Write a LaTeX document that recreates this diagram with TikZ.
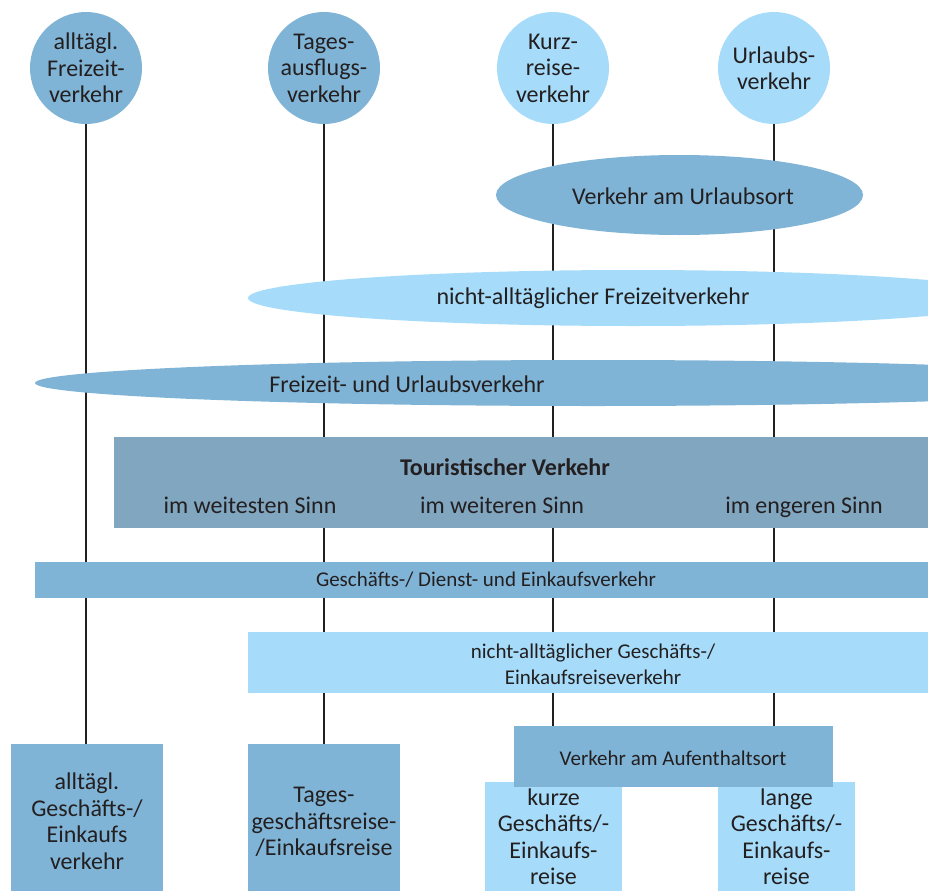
\documentclass[tikz,border=0pt]{standalone}
\usepackage{fontspec}
\setmainfont{Carlito}
\usetikzlibrary{shapes.geometric,backgrounds}
\definecolor{midblue}{HTML}{80B4D6}
\definecolor{lightblue}{HTML}{A6DCF9}
\definecolor{greyblue}{HTML}{80A6C0}
\definecolor{ink}{HTML}{231F20}
\tikzset{
  txt/.style={text=ink, font=\fontsize{24}{26.5}\selectfont, align=center, inner sep=0},
  smalltxt/.style={text=ink, font=\fontsize{21}{26}\selectfont, align=center, inner sep=0},
  bubble/.style={circle, minimum size=112, inner sep=0, txt},
  oval/.style={ellipse, inner sep=0},
  panel/.style={rectangle, inner sep=0},
  stem/.style={draw=ink, line width=1.2pt},
}
\begin{document}
\begin{tikzpicture}[x=1pt,y=-1pt]
\useasboundingbox (0,0) rectangle (928,891);
\begin{scope}
\clip (0,0) rectangle (928,891);

% categories at the top
\node[bubble, fill=midblue] (c1) at (86,68) {alltägl.\\Freizeit-\\verkehr};
\node[bubble, fill=midblue] (c2) at (324,68) {Tages-\\ausflugs-\\verkehr};
\node[bubble, fill=lightblue] (c3) at (553,68) {Kurz-\\reise-\\verkehr};
\node[bubble, fill=lightblue] (c4) at (774,68) {Urlaubs-\\verkehr};

% leisure ellipses
\node[oval, fill=midblue, minimum width=367, minimum height=80] (urlort) at (679.5,195) {};
\node[txt] (urlorttxt) at (683,196) {Verkehr am Urlaubsort};
\node[oval, fill=lightblue, minimum width=770, minimum height=56] (nafz) at (633,298) {};
\node[txt] (nafztxt) at (593,298) {nicht-alltäglicher Freizeitverkehr};
\node[oval, fill=midblue, minimum width=1116, minimum height=46] (fuv) at (593,383) {};
\node[txt] (fuvtxt) at (407,384) {Freizeit- und Urlaubsverkehr};

% tourism band
\node[panel, fill=greyblue, minimum width=814, minimum height=91] (tour) at (521,482.5) {};
\node[txt, font=\bfseries\fontsize{24}{26}\selectfont] (tourtxt) at (505,467) {Touristischer Verkehr};
\node[txt, anchor=base] (weitest) at (250,513) {im weitesten Sinn};
\node[txt, anchor=base] (weiter) at (502,513) {im weiteren Sinn};
\node[txt, anchor=base] (enger) at (804,513) {im engeren Sinn};

% business bands
\node[panel, fill=midblue, minimum width=893, minimum height=36] (gde) at (481.5,580) {};
\node[smalltxt] (gdetxt) at (486,580) {Geschäfts-/ Dienst- und Einkaufsverkehr};
\node[panel, fill=lightblue, minimum width=680, minimum height=61] (nag) at (588,662.5) {};
\node[smalltxt] (nagtxt) at (593,664) {nicht-alltäglicher Geschäfts-/\\Einkaufsreiseverkehr};

% business trips at the bottom
\node[panel, fill=midblue, minimum width=152, minimum height=147] (b1) at (87,817.5) {};
\node[txt] (b1txt) at (87,821) {alltägl.\\Geschäfts-/\\Einkaufs\\verkehr};
\node[panel, fill=midblue, minimum width=152, minimum height=147] (b2) at (324,817.5) {};
\node[txt] (b2txt) at (324,822) {Tages-\\geschäftsreise-\\/Einkaufsreise};
\node[panel, fill=lightblue, minimum width=137, minimum height=109] (kurz) at (553.5,836.5) {};
\node[txt] (kurztxt) at (553.5,836.5) {kurze\\Geschäfts/-\\Einkaufs-\\reise};
\node[panel, fill=lightblue, minimum width=137, minimum height=109] (lang) at (786.5,836.5) {};
\node[txt] (langtxt) at (786.5,836.5) {lange\\Geschäfts/-\\Einkaufs-\\reise};
\node[panel, fill=midblue, minimum width=319, minimum height=61] (auf) at (673.5,756.5) {};
\node[smalltxt] (auftxt) at (673,758) {Verkehr am Aufenthaltsort};

% vertical stems behind everything
\begin{scope}[on background layer]
  \draw[stem] (c1.south) -- (c1.south |- b1.north);
  \draw[stem] (c2.south) -- (c2.south |- b2.north);
  \draw[stem] (c3.south) -- (c3.south |- auf.north);
  \draw[stem] (c4.south) -- (c4.south |- auf.north);
\end{scope}
\end{scope}
\end{tikzpicture}
\end{document}
